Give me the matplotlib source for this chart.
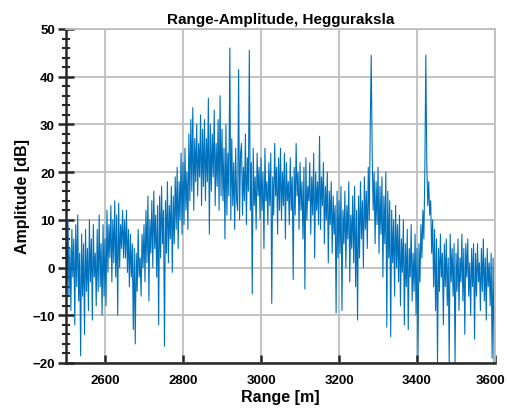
import numpy as np
from matplotlib import pyplot as plt
from matplotlib.ticker import MultipleLocator
from matplotlib.transforms import ScaledTranslation

plt.rcParams['font.family'] = ['Liberation Sans', 'DejaVu Sans']
plt.rcParams['font.weight'] = 'bold'

# range bins, 2.5 m apart
range_m = np.arange(2500.0, 3600.0 + 1.25, 2.5)

# amplitude per range bin [dB], 50 m per row
amp_db = [
    7, -3, 10, -6, 4, -9, 8, -2, 6, -12, 9, -4, 11, -7, 3, -18.5, 7, -6, 5, -14,
    8, -5, 4, -9, 10, -3, 6, -11, 9, -2, 3, -8, 8, -5, 11, -4, 5, -10, 9, -6,
    6, -8, 12, -1, 9, 2, 13, -3, 10, 1, 14, -2, 11, -10, 13.5, 0, 9, 4, 12, 2,
    10, 2, 12, -1, 8, -4, 7, -2, 5, -13, 4, -16, 3, -5, 8, -2, 2, -6, 7, 0,
    9, -3, 12, 1, 15, -7, 10, 3, 14, 0, 16, 4, 11, -2, 13, -12, 15, 2, 17, 5,
    12, -16.5, 14, 3, 18, 1, 13, 6, 17, -1, 15, 5, 19, 8, 21, 4, 18, 10, 24, 7,
    22, 9, 25, 12, 20, 8, 28, 14, 31, 16, 33.5, 12, 27, 18, 30, 15, 26, 19, 32, 13,
    29, 17, 31, 14, 27, 18, 35.5, 7, 30, 16, 28, 19, 33, 13, 26, 17, 31, 12, 36, 15,
    29, 14, 25, 6, 30, 11, 24, 15, 46, 10, 27, 13, 22, 8, 25, 14, 12, 41.5, 10, 24,
    26, 11, 21, 14, 28, 9, 23, 16, 45.5, 12, 22, -5.5, 25, 13, 19, 8, 24, 15, 21, 10,
    23, 12, 20, 4, 25, 14, 18, 9, 22, 13, 24, -7.5, 19, 11, 26, 15, 21, 7, 23, 12,
    25, 10, 20, 13, 24, 6, 22, 14, 18, 9, 23, 12, 19, -2.5, 21, 11, 26, 15, 20, 8,
    22, 12, 18, 6, 21, -4.5, 23, 10, 17, 14, 22, 7, 19, 11, 24, 2, 20, 12, 18, 9,
    27.5, 8, 19, 13, 22, 5, 17, 10, 20, 1, 16, 9, 18, 3, 15, 7, 13, -9.5, 16, 2,
    14, 3, 17, -9, 12, 5, 16, 0, 13, 6, 18, -3, 11, 4, 15, 1, 17, -4, 12, -11,
    15, 2, 18, 6, 14, 0, 19, 8, 16, 4, 21, 10, 29, 44.5, 24, 12, 20, 5, 18, 9,
    21, 3, 17, 7, 19, -2, 15, 5, 20, -12.5, 16, 2, 14, -14.5, 12, 1, 10, -6, 13, 0,
    9, -3, 11, -8, 6, -1, 10, -12, 5, -4, 8, -13, 4, -2, 9, -7, 3, -5, 7, -10,
    4, -18.5, 5, -3, 9, 2, 12, 6, 20, 44.5, 22, 13, 18, 11, 14, 3, 10, -4, 8, -9,
    6, -20, 4, -5, 7, -2, 3, -12, 5, -4, 6, -8, 2, -20, 7, -3, 4, -6, 5, -20,
    3, -5, 6, -9, 2, -3, 7, -7, 4, -14, 5, -2, 6, -6, 1, -10, 4, -4, 5, -15,
    3, -6, 5, -3, 1, -9, 4, -5, 6, -7, 2, -11, 4, -4, 1, -8, 3, -19, 2, -20,
    -8,
]

range_ticks = [2600, 2800, 3000, 3200, 3400, 3600]

fig = plt.figure(figsize=(5.07, 4.14), dpi=100)
ax = fig.add_axes([0.1302, 0.1208, 0.8462, 0.8068])

ax.plot(range_m, amp_db, color='#0072BD', linewidth=0.8)

ax.set_xlim(2500, 3600)
ax.set_ylim(-20, 50)
ax.set_xticks(range_ticks)
ax.yaxis.set_major_locator(MultipleLocator(10))
ax.yaxis.set_minor_locator(MultipleLocator(2))

ax.grid(True, which='major', color='#bebebe', linewidth=1.3)
ax.set_axisbelow(True)

for side in ['top', 'right']:
    ax.spines[side].set_color('#bebebe')
    ax.spines[side].set_linewidth(1.3)
for side in ['bottom', 'left']:
    ax.spines[side].set_color('#262626')
    ax.spines[side].set_linewidth(1.8)

ax.tick_params(axis='x', which='major', direction='in', length=6, width=1.8,
               color='#262626', pad=8, labelsize=9.5)
ax.tick_params(axis='y', which='major', direction='inout', length=12, width=1.8,
               color='#262626', pad=2, labelsize=9.5)
ax.tick_params(axis='y', which='minor', direction='inout', length=6, width=1.5,
               color='#262626')
ax.tick_params(top=False, right=False, which='both')

# nudge the last range label so it stays inside the figure
last = ax.get_xticklabels()[-1]
last.set_transform(last.get_transform() + ScaledTranslation(-3 / 72, 0, fig.dpi_scale_trans))

ax.set_xlabel('Range [m]', fontsize=11.5, fontweight='bold', labelpad=2)
ax.set_ylabel('Amplitude [dB]', fontsize=11.5, fontweight='bold', labelpad=2)
ax.set_title('Range-Amplitude, Hegguraksla', fontsize=11, fontweight='bold', pad=4)

plt.savefig('out.png', dpi=100)
